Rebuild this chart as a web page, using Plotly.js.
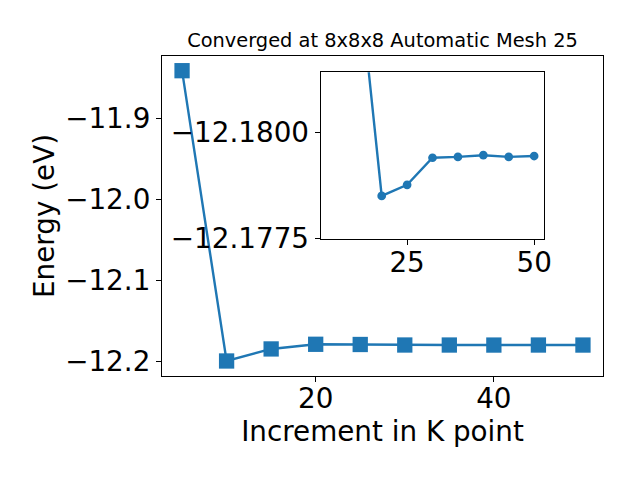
<!DOCTYPE html>
<html>
<head>
<meta charset="utf-8">
<script src="https://cdn.plot.ly/plotly-3.0.1.min.js"></script>
<style>html,body{margin:0;padding:0;background:#fff;}#chart{width:640px;height:480px;}</style>
</head>
<body>
<div id="chart"></div>
<script>
// Data
const kPoints = [5, 10, 15, 20, 25, 30, 35, 40, 45, 50];
const energies = [-11.8413, -12.1991, -12.18425, -12.17851, -12.17877, -12.17941, -12.17943, -12.17947, -12.17943, -12.17945];
const insetKPoints = [10, 15, 20, 25, 30, 35, 40, 45, 50];
const insetEnergies = [-12.1991, -12.18425, -12.17851, -12.17877, -12.17941, -12.17943, -12.17947, -12.17943, -12.17945];
const insetXTicks = [25, 50];
const insetYTicks = [-12.1800, -12.1775];
const mainYTicks = [-11.9, -12.0, -12.1, -12.2];
const titleText = "Converged at 8x8x8 Automatic Mesh 25";
const xLabel = "Increment in K point";
const yLabel = "Energy (eV)";

const blue = '#1f77b4';
const font = 'DejaVu Sans, sans-serif';
const big = 27.8;

const traces = [
  {
    x: kPoints, y: energies, type: 'scatter', mode: 'lines+markers',
    line: {color: blue, width: 2.4},
    marker: {symbol: 'square', size: 15.3, color: blue},
    xaxis: 'x', yaxis: 'y', hoverinfo: 'skip', cliponaxis: true
  },
  {
    x: insetKPoints, y: insetEnergies, type: 'scatter', mode: 'lines+markers',
    line: {color: blue, width: 2.4},
    marker: {symbol: 'circle', size: 8.7, color: blue},
    xaxis: 'x2', yaxis: 'y2', hoverinfo: 'skip', cliponaxis: true
  }
];

const axCommon = {
  showgrid: false, zeroline: false, showline: true, linecolor: 'black', linewidth: 1.1,
  mirror: true, ticks: 'outside', ticklen: 5, tickwidth: 1.1, tickcolor: 'black',
  tickfont: {family: font, size: big, color: 'black'}
};

const layout = {
  width: 640, height: 480,
  paper_bgcolor: 'white', plot_bgcolor: 'white',
  showlegend: false,
  margin: {l: 162, r: 37, t: 56, b: 104, pad: 0},
  title: {text: titleText, font: {family: font, size: 19.4, color: 'black'},
          x: 0.5, xref: 'paper', y: 1, yref: 'paper', yanchor: 'bottom', pad: {b: 9}},
  xaxis: Object.assign({}, axCommon, {
    domain: [0, 1], range: [2.75, 52.25], tickmode: 'linear', tick0: 0, dtick: 20,
    ticklabelstandoff: -7,
    title: {text: xLabel, font: {family: font, size: big, color: 'black'}, standoff: 4},
    anchor: 'y'
  }),
  yaxis: Object.assign({}, axCommon, {
    domain: [0, 1], range: [-12.2176, -11.8232], tickmode: 'array', tickvals: mainYTicks,
    tickformat: '.1f',
    title: {text: yLabel, font: {family: font, size: big, color: 'black'}, standoff: 2},
    anchor: 'x'
  }),
  xaxis2: Object.assign({}, axCommon, {
    domain: [0.3599, 0.8669], range: [8, 52], tickmode: 'array', tickvals: insetXTicks,
    ticklabelstandoff: -7,
    anchor: 'y2'
  }),
  yaxis2: Object.assign({}, axCommon, {
    domain: [0.4272, 0.949], range: [-12.177486, -12.181425], tickmode: 'array', tickvals: insetYTicks,
    tickformat: '.4f',
    anchor: 'x2'
  })
};

Plotly.newPlot('chart', traces, layout, {staticPlot: true, displayModeBar: false});
</script>
</body>
</html>
